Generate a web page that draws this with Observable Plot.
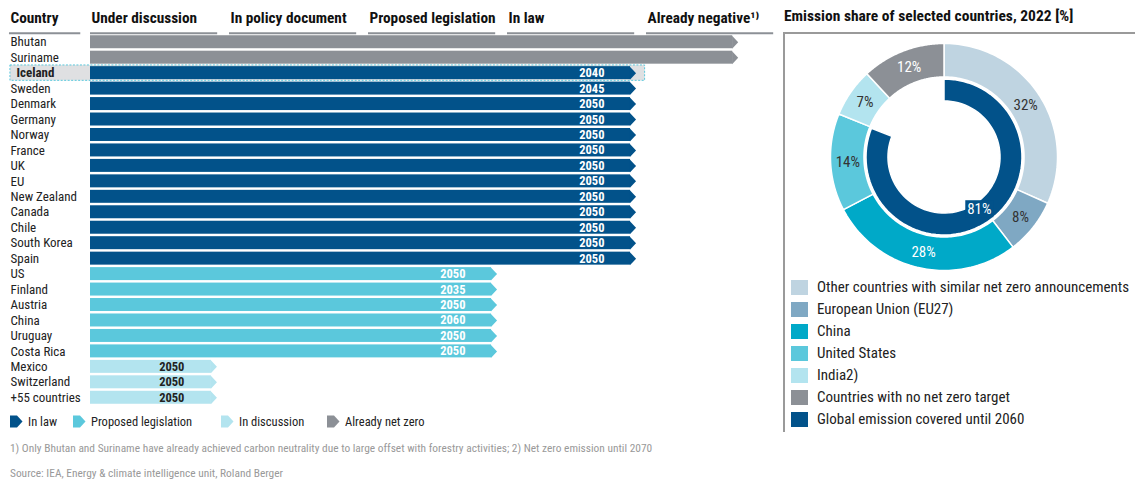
<!DOCTYPE html>
<html><head><meta charset="utf-8">
<script src="https://cdn.jsdelivr.net/npm/d3@7"></script>
<script src="https://cdn.jsdelivr.net/npm/@observablehq/plot@0.6"></script>
<style>
body{margin:0;background:#fff;}
#root{position:relative;width:1135px;height:483px;overflow:hidden;font-family:"Liberation Sans Narrow","Arial Narrow","Roboto Condensed","DejaVu Sans Condensed",sans-serif;color:#222;}
.abs{position:absolute;white-space:nowrap;}
</style></head><body><div id="root"></div>
<script>
const FONT = '"Liberation Sans Narrow","Arial Narrow","Roboto Condensed","DejaVu Sans Condensed",sans-serif';

// ---- Left chart data ----
const countries = ["Bhutan","Suriname","Iceland","Sweden","Denmark","Germany","Norway","France","UK","EU","New Zealand","Canada","Chile","South Korea","Spain","US","Finland","Austria","China","Uruguay","Costa Rica","Mexico","Switzerland","+55 countries"];
const stages = ["negative","negative","law","law","law","law","law","law","law","law","law","law","law","law","law","proposed","proposed","proposed","proposed","proposed","proposed","discussion","discussion","discussion"];
const years = [null,null,2040,2045,2050,2050,2050,2050,2050,2050,2050,2050,2050,2050,2050,2050,2035,2050,2060,2050,2050,2050,2050,2050];
const stageNames = ["law","proposed","discussion","negative"];
const stageLegend = ["In law","Proposed legislation","In discussion","Already net zero"];
const stageColors = ["#02528a","#5bc8dc","#b3e4ef","#8c9096"];
const stageProgress = {discussion: 0.87, proposed: 2.885, law: 3.885, negative: 4.62};
const headerLabels = ["Country","Under discussion","In policy document","Proposed legislation","In law","Already negative\u00B9\u207E"];
const headerStart = [-0.583, 0, 1, 2, 3, 4];
const headerEnd = [-0.07, 0.915, 1.915, 2.915, 3.915, 4.915];
const highlighted = "Iceland";

// ---- Donut data ----
const shareLabels = ["Other countries with similar net zero announcements","European Union (EU27)","China","United States","India2)","Countries with no net zero target"];
const shareValues = [32, 8, 28, 14, 7, 12];
const shareColors = ["#bfd4e1","#7fa8c3","#00a9c8","#5bc8dc","#b3e4ef","#8c9096"];
const shareTextColors = ["#333","#333","#fff","#333","#333","#fff"];
const coveredLabel = "Global emission covered until 2060";
const coveredValue = 81;
const coveredColor = "#02528a";

const footnote = "1) Only Bhutan and Suriname have already achieved carbon neutrality due to large offset with forestry activities; 2) Net zero emission until 2070";
const source = "Source: IEA, Energy & climate intelligence unit, Roland Berger";
const rightTitle = "Emission share of selected countries, 2022 [%]";

const root = document.getElementById("root");
function place(el, left, top){ el.classList.add("abs"); el.style.left = left+"px"; el.style.top = top+"px"; root.appendChild(el); return el; }

// ---- Left chart ----
const rows = countries.map((c,i)=>({country:c, stage:stages[i], year:years[i], end:stageProgress[stages[i]]}));
const tipSymbol = {draw(ctx, size){ const r = Math.sqrt(size/Math.PI); ctx.moveTo(-0.6,-r); ctx.lineTo(r*0.85,0); ctx.lineTo(-0.6,r); ctx.closePath(); }};
const boxSymbol = {draw(ctx, size){ const r = Math.sqrt(size/Math.PI); ctx.rect(-r*1.65,-r,r*3.3,r*2); }};

const left = Plot.plot({
  width: 780, height: 410,
  marginLeft: 90, marginTop: 34, marginRight: 0, marginBottom: 5,
  x: {domain:[0,5], range:[90,785], axis:null},
  y: {domain: countries, paddingInner: 0.16, paddingOuter: 0.08, round: false, axis:null},
  color: {domain: stageNames, range: stageColors},
  style: {fontFamily: FONT, fontSize: "13px", color:"#222", background:"transparent"},
  marks: [
    Plot.barX([highlighted], {y: d=>d, x1: -0.576, x2: 3.99, fill:"#dfe0e2", stroke:"#5bc8dc", strokeWidth:1, strokeDasharray:"2,1.5", insetTop:-1.2, insetBottom:-1.2}),
    Plot.barX(rows, {y:"country", x1: 0, x2:"end", fill:"stage"}),
    Plot.dot(rows, {x:"end", y:"country", symbol: tipSymbol, r: 6.5, fill:"stage", stroke:null}),
    Plot.text(rows.filter(d=>d.year && d.stage!=="discussion"), {x:"end", y:"country", text:d=>String(d.year), textAnchor:"end", dx:-26, fill:"#fff", fontWeight:"bold", fontSize:12.5}),
    Plot.text(rows.filter(d=>d.year && d.stage==="discussion"), {x:"end", y:"country", text:d=>String(d.year), textAnchor:"end", dx:-27, fill:"#222", fontWeight:"bold", fontSize:12.5}),
    Plot.text(countries.filter(c=>c!==highlighted), {y:d=>d, frameAnchor:"left", textAnchor:"start", dx:-80, fill:"#222"}),
    Plot.text([highlighted], {y:d=>d, frameAnchor:"left", textAnchor:"start", dx:-74, fill:"#222", fontWeight:"bold"}),
    Plot.ruleY(headerLabels, {y:()=>countries[0], x1:(d,i)=>headerStart[i], x2:(d,i)=>headerEnd[i], dy:-9, stroke:"#8c9096", strokeWidth:2}),
    Plot.text(headerLabels, {x:(d,i)=>headerStart[i], y:()=>countries[0], dy:-24, dx:1, textAnchor:"start", fontWeight:"bold", fontSize:15.3, fill:"#111"})
  ]
});
place(left, 0, 0);

// ---- Left legend ----
const legendX = [10, 73, 221, 327];
stageLegend.forEach((lab,i)=>{
  const d = document.createElement("div");
  d.style.fontSize = "12.5px";
  d.style.display = "flex"; d.style.alignItems = "center";
  d.innerHTML = `<svg width="13" height="13" style="margin-right:5px"><path d="M0,0.5H7L12.5,6.5L7,12.5H0Z" fill="${stageColors[i]}"/></svg><span>${lab}</span>`;
  place(d, legendX[i], 414);
});

const fn = document.createElement("div"); fn.textContent = footnote; fn.style.fontSize = "11.4px"; fn.style.color = "#999"; place(fn, 10, 441);
const src = document.createElement("div"); src.textContent = source; src.style.fontSize = "11.4px"; src.style.color = "#999"; place(src, 10, 466);

// ---- Right panel ----
const title = document.createElement("div"); title.textContent = rightTitle; title.style.fontSize = "15.5px"; title.style.fontWeight = "bold"; title.style.color = "#111"; place(title, 784, 7);
const box = document.createElement("div"); box.style.width = "352px"; box.style.height = "398px"; box.style.borderLeft = "2px solid #9a9a9a"; box.style.borderTop = "2px solid #9a9a9a"; place(box, 783, 32);

const pie = d3.pie().sort(null).value(d=>d.value);
const outerArcs = pie(shareLabels.map((l,i)=>({label:l, value:shareValues[i], color:shareColors[i], text:shareTextColors[i]})));
const innerArc = {startAngle: 0, endAngle: 2*Math.PI*coveredValue/100, data:{label:coveredLabel, value:coveredValue, color:coveredColor}};
const R_OUT = [0.667, 0.946], R_IN = [0.467, 0.65];
function ringPoints(arcs, radii){
  const pts = [];
  arcs.forEach(a=>{
    const n = 80;
    for (let k=0;k<=n;k++){
      const t = a.startAngle + (a.endAngle-a.startAngle)*k/n;
      pts.push({slice:a.data.label, color:a.data.color,
        x1: radii[0]*Math.sin(t), y1: radii[0]*Math.cos(t),
        x2: radii[1]*Math.sin(t), y2: radii[1]*Math.cos(t)});
    }
  });
  return pts;
}
const outerPts = ringPoints(outerArcs, R_OUT);
const innerPts = ringPoints([innerArc], R_IN);
const outerLabels = outerArcs.map(a=>{ const m=(a.startAngle+a.endAngle)/2, r=(R_OUT[0]+R_OUT[1])/2; return {x:r*Math.sin(m), y:r*Math.cos(m), text:a.data.value+"%", fill:a.data.text}; });
const innerMid = (innerArc.startAngle+innerArc.endAngle)/2;
const innerLabel = [{x:0.516*Math.sin(innerMid), y:0.516*Math.cos(innerMid), text:coveredValue+"%"}];

const donut = Plot.plot({
  width: 240, height: 240, margin: 0,
  x: {domain:[-1,1], range:[0,240], axis:null},
  y: {domain:[-1,1], range:[240,0], axis:null},
  color: {type:"identity"},
  style: {fontFamily: FONT, fontSize:"15px", background:"transparent"},
  marks: [
    Plot.area(outerPts, {x1:"x1", y1:"y1", x2:"x2", y2:"y2", z:"slice", fill:"color", stroke:"#fff", strokeWidth:1.5}),
    Plot.area(innerPts, {x1:"x1", y1:"y1", x2:"x2", y2:"y2", z:"slice", fill:"color", stroke:"#fff", strokeWidth:1.5}),
    Plot.text(outerLabels, {x:"x", y:"y", text:"text", fill:"fill"}),
    Plot.dot(innerLabel, {x:"x", y:"y", symbol: boxSymbol, r: 8.5, fill: coveredColor, stroke:null}),
    Plot.text(innerLabel, {x:"x", y:"y", text:"text", fill:"#fff"})
  ]
});
place(donut, 823.5, 36.5);

// ---- Right legend ----
const legLabels = shareLabels.concat([coveredLabel]);
const legColors = shareColors.concat([coveredColor]);
legLabels.forEach((lab,i)=>{
  const d = document.createElement("div");
  d.style.display = "flex"; d.style.alignItems = "center"; d.style.fontSize = "15px"; d.style.color = "#222";
  d.innerHTML = `<span style="display:inline-block;width:17px;height:15px;background:${legColors[i]};margin-right:9px"></span><span>${lab}</span>`;
  place(d, 791, 278 + i*22);
});
</script>
</body></html>
